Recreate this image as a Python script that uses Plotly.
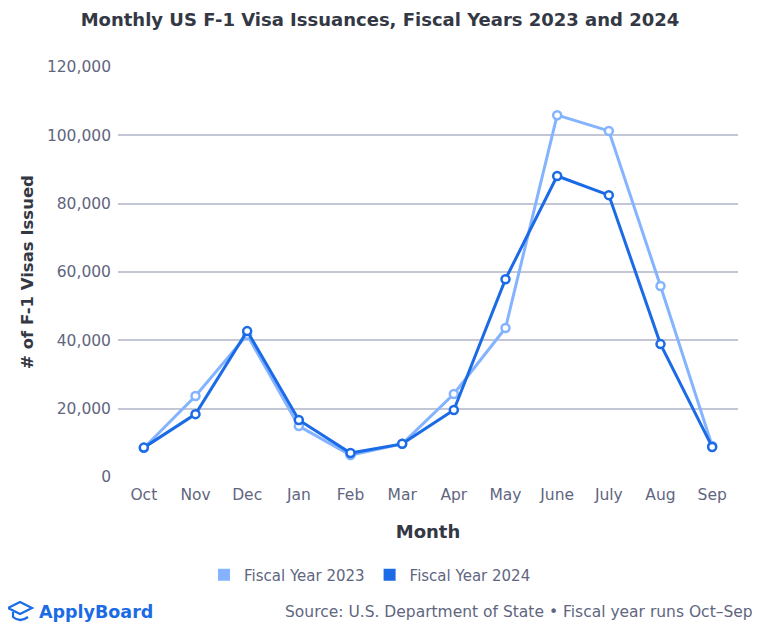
import plotly.graph_objects as go

months = ["Oct", "Nov", "Dec", "Jan", "Feb", "Mar", "Apr", "May", "June", "July", "Aug", "Sep"]
fy2023 = [8500, 23700, 41600, 14900, 6400, 9700, 24300, 43600, 105900, 101300, 55900, 9100]
fy2024 = [8600, 18400, 42700, 16700, 7000, 9700, 19600, 57900, 88100, 82500, 38900, 8800]
series_names = ["Fiscal Year 2023", "Fiscal Year 2024"]

FONT = "DejaVu Sans"
c23 = "#84b3ff"
c24 = "#1c6be6"
dark = "#333844"
grey = "#5f6680"

W, H = 752, 624
L, R, T, B = 110, 22, 59, 155
PW, PH = W - L - R, H - T - B


def px(x):
    return (x - L) / PW


def py(y):
    return (H - B - y) / PH


fig = go.Figure()
for vals, name, c in [(fy2023, series_names[0], c23), (fy2024, series_names[1], c24)]:
    fig.add_trace(go.Scatter(x=months, y=vals, name=name, mode="lines+markers", showlegend=False,
                             line=dict(color=c, width=3),
                             marker=dict(symbol="circle", size=8, color="white", line=dict(color=c, width=2.5))))
for name, c in [(series_names[0], c23), (series_names[1], c24)]:
    fig.add_trace(go.Scatter(x=[None], y=[None], name=name, mode="markers",
                             marker=dict(symbol="square", size=15, color=c)))

fig.update_layout(
    width=W, height=H,
    paper_bgcolor="white", plot_bgcolor="white",
    margin=dict(l=L, r=R, t=T, b=B),
    font=dict(family=FONT, color=grey, size=15),
    title=dict(text="<b>Monthly US F-1 Visa Issuances, Fiscal Years 2023 and 2024</b>",
               xref="container", x=372 / W, xanchor="center", y=1 - 12 / H, yanchor="middle",
               font=dict(size=18, color=dark, family=FONT)),
    xaxis=dict(type="category", range=[-0.5, 11.5], showgrid=False, showline=False,
               ticks="", tickfont=dict(size=15.5, color=grey), ticklabelstandoff=6,
               title=dict(text="<b>Month</b>", font=dict(size=18, color=dark), standoff=22)),
    yaxis=dict(range=[0, 120000], tickvals=[0, 20000, 40000, 60000, 80000, 100000, 120000],
               tickformat=",", gridcolor="#c3c6d4", gridwidth=1.5, zeroline=False,
               tickfont=dict(size=15.5, color=grey), ticks="", ticklen=0, ticklabelstandoff=6,
               title=dict(text="<b># of F-1 Visas Issued</b>", font=dict(size=16.5, color=dark), standoff=9)),
    legend=dict(orientation="h", x=px(362), xanchor="center", y=py(567), yanchor="middle",
                font=dict(size=15, color=grey), itemsizing="constant", itemwidth=30),
    showlegend=True,
)

# logo icon (mortarboard)
fig.add_shape(type="path", xref="paper", yref="paper",
              path=f"M {px(0)},{py(600)} L {px(12)},{py(594)} L {px(24)},{py(600)} L {px(12)},{py(606)} Z",
              line=dict(color=c24, width=2.2), fillcolor="rgba(0,0,0,0)")
fig.add_shape(type="path", xref="paper", yref="paper",
              path=f"M {px(5)},{py(604)} L {px(5)},{py(609)} Q {px(12)},{py(615)} {px(20)},{py(609)}",
              line=dict(color=c24, width=2.2), fillcolor="rgba(0,0,0,0)")
fig.add_annotation(text="<b>ApplyBoard</b>", xref="paper", yref="paper", x=px(29), y=py(604),
                   xanchor="left", yanchor="middle", showarrow=False,
                   font=dict(size=17.5, color=c24, family=FONT))
fig.add_annotation(text="Source: U.S. Department of State • Fiscal year runs Oct–Sep", xref="paper", yref="paper",
                   x=px(747), y=py(604), xanchor="right", yanchor="middle", showarrow=False,
                   font=dict(size=15.5, color=grey, family=FONT))

fig.write_html("out.html")
